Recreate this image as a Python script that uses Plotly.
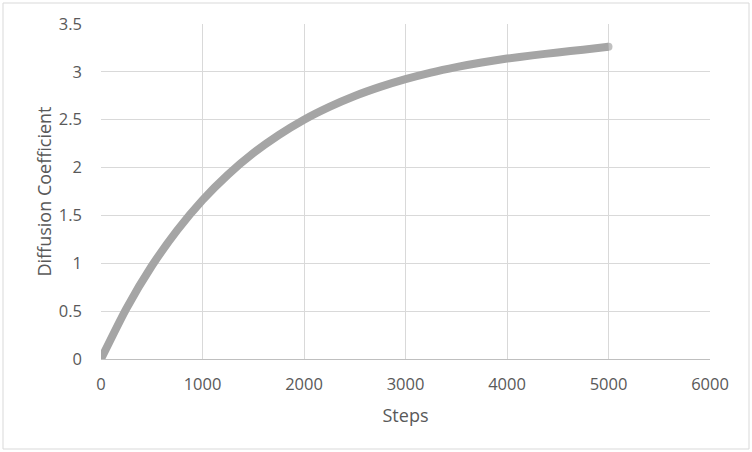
import plotly.graph_objects as go

steps = [0, 250, 500, 750, 1000, 1250, 1500, 1750, 2000, 2250, 2500,
         2750, 3000, 3250, 3500, 3750, 4000, 4250, 4500, 4750, 5000]
diffusion = [0.0, 0.527, 0.971, 1.344, 1.660, 1.925, 2.150, 2.339, 2.500,
             2.634, 2.748, 2.843, 2.924, 2.993, 3.050, 3.098, 3.139,
             3.172, 3.203, 3.231, 3.262]

x_ticks = [0, 1000, 2000, 3000, 4000, 5000, 6000]
y_ticks = [0, 0.5, 1, 1.5, 2, 2.5, 3, 3.5]
y_tick_text = ["0", "0.5", "1", "1.5", "2", "2.5", "3", "3.5"]

line_color = "#a5a5a5"
end_sizes = [8] + [0] * (len(steps) - 2) + [8]

fig = go.Figure()
fig.add_trace(go.Scatter(
    x=steps, y=diffusion, mode="lines+markers",
    line=dict(color=line_color, width=8, shape="spline", smoothing=0.6),
    marker=dict(color=line_color, size=end_sizes, line=dict(width=0)),
    hoverinfo="skip", showlegend=False,
))

W, H = 752, 452
L, R, T, B = 101, 42, 24, 93
pw, ph = W - L - R, H - T - B

font = "Open Sans, sans-serif"
fig.update_layout(
    width=W, height=H,
    margin=dict(l=L, r=R, t=T, b=B),
    paper_bgcolor="white", plot_bgcolor="white",
    font=dict(family=font, size=16.5, color="#595959"),
    xaxis=dict(
        range=[0, 6000], tickvals=x_ticks, showgrid=True, gridcolor="#d9d9d9",
        gridwidth=1, zeroline=False, showline=True, linecolor="#bfbfbf",
        linewidth=1, ticks="", ticklabelstandoff=10,
        title=dict(text="Steps", font=dict(size=18, color="#595959"), standoff=15),
    ),
    yaxis=dict(
        range=[0, 3.5], tickvals=y_ticks, ticktext=y_tick_text, showgrid=True,
        gridcolor="#d9d9d9", gridwidth=1, zeroline=False, showline=False,
        ticks="", ticklabelstandoff=18,
        title=dict(text="Diffusion Coefficient", font=dict(size=18, color="#595959"),
                   standoff=2),
    ),
    shapes=[dict(
        type="rect", xref="paper", yref="paper",
        x0=(3 - L) / pw, x1=(749 - L) / pw,
        y0=(H - B - 449) / ph, y1=(H - B - 3) / ph,
        line=dict(color="#d9d9d9", width=1), layer="below",
    )],
)

fig.write_html("out.html", config={"displayModeBar": False},
               post_script="document.body.style.margin='0';")
